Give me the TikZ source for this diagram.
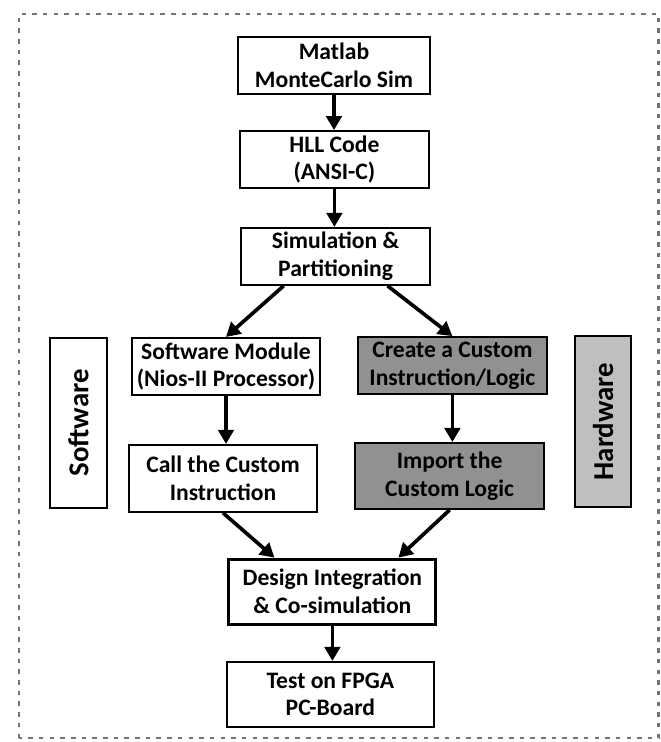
\documentclass[tikz,border=0pt]{standalone}
\usepackage{fontspec}
\setmainfont{Carlito}
\usetikzlibrary{arrows.meta}

\tikzset{
	stepbox/.style={draw, line width=1.4pt, fill=white, align=center, inner sep=2pt,
		font=\fontsize{16.8}{19.7}\selectfont\bfseries},
	hwbox/.style={stepbox, fill=black!43},
	sidebox/.style={draw, line width=1.4pt, inner sep=0pt},
	sidetext/.style={rotate=90, font=\fontsize{20.5}{24}\selectfont\bfseries},
	flow/.style={line width=2.6pt, -{Triangle[length=10pt,width=11pt]}}
}

\begin{document}
\begin{tikzpicture}
	
	\useasboundingbox (0,0) rectangle (16.525,18.55);
	
	\draw[black!55, line width=2.1pt, dash pattern=on 3.2pt off 4.4pt] (0.475,0.1) rectangle (16.47,18.2);
	
	\node[stepbox, minimum width=4.8cm, minimum height=1.425cm] (mat) at (8.35,16.91) {Matlab\\MonteCarlo Sim};
	\node[stepbox, minimum width=4.725cm, minimum height=1.425cm] (hll) at (8.36,14.56) {HLL Code\\(ANSI-C)};
	\node[stepbox, minimum width=4.725cm, minimum height=1.425cm] (sim) at (8.39,12.14) {Simulation \&\\Partitioning};
	
	\node[stepbox, minimum width=4.7cm, minimum height=1.425cm] (swm) at (5.65,9.39) {Software Module\\(Nios-II Processor)};
	\node[hwbox, minimum width=4.725cm, minimum height=1.425cm] (cre) at (11.31,9.41) {Create a Custom\\Instruction/Logic};
	
	\node[stepbox, minimum width=4.7cm, minimum height=1.675cm] (cal) at (5.575,6.59) {Call the Custom\\Instruction};
	\node[hwbox, minimum width=4.725cm, minimum height=1.65cm] (imp) at (11.24,6.65) {Import the\\Custom Logic};
	
	\node[sidebox, fill=white, minimum width=1.425cm, minimum height=4.25cm] (swl) at (1.96,7.975) {};
	\node[sidetext] (swt) at (swl) {Software};
	\node[sidebox, fill=black!25, minimum width=1.4cm, minimum height=4.275cm] (hwl) at (15.075,8.01) {};
	\node[sidetext] (hwt) at (hwl) {Hardware};
	
	\node[stepbox, line width=2.1pt, minimum width=5.175cm, minimum height=1.625cm] (des) at (8.31,3.76) {Design Integration\\\& Co-simulation};
	\node[stepbox, minimum width=5.175cm, minimum height=1.625cm] (tst) at (8.26,1.19) {Test on FPGA\\PC-Board};
	
	\draw[flow] (mat.south) -- (mat.south |- hll.north);
	\draw[flow] (hll.south) -- (hll.south |- sim.north);
	
	\draw[flow] ([xshift=-1.3cm]sim.south) -- (swm.north);
	\draw[flow] ([xshift=1.3cm]sim.south) -- (cre.north);
	
	\draw[flow] (swm.south) -- (swm.south |- cal.north);
	\draw[flow] (cre.south) -- (cre.south |- imp.north);
	
	\draw[flow] (cal.south) -- ([xshift=-1.45cm]des.north);
	\draw[flow] (imp.south) -- ([xshift=1.65cm]des.north);
	
	\draw[flow] (des.south) -- (des.south |- tst.north);
	
\end{tikzpicture}
\end{document}
